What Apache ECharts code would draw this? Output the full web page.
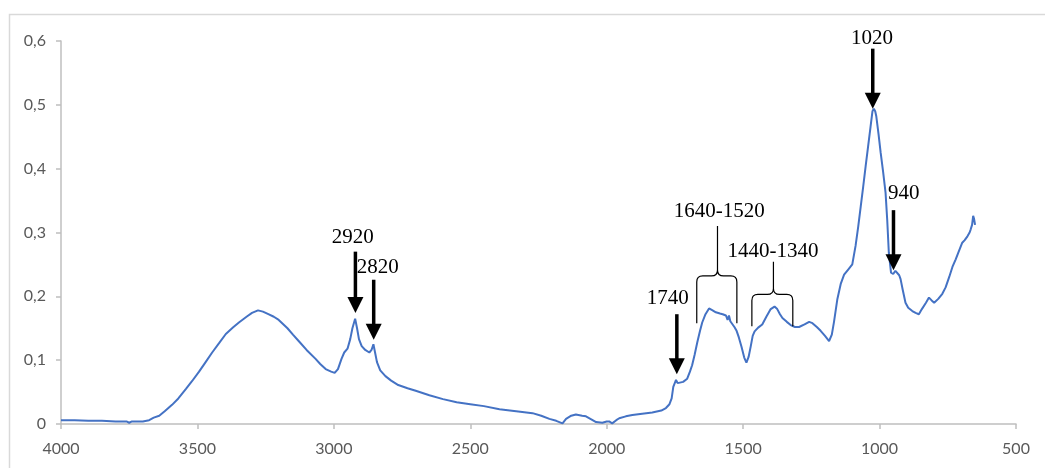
<!DOCTYPE html>
<html>
<head>
<meta charset="utf-8">
<script src="https://cdn.jsdelivr.net/npm/echarts@6/dist/echarts.min.js"></script>
<style>
  html, body { margin: 0; padding: 0; background: #fff; }
  #chart { width: 1045px; height: 468px; }
</style>
</head>
<body>
<div id="chart"></div>
<script>
// 光谱数据（波数 / 吸光度）
const wavenumbers = [
  4000, 3950, 3900, 3850, 3800, 3760, 3750, 3740, 3700, 3677, 3660, 3640, 3620, 3593, 3570, 3542, 3520, 3494, 3470, 3446,
  3420, 3396, 3370, 3348, 3320, 3300, 3278, 3260, 3240, 3220, 3202, 3170, 3150, 3129, 3100, 3067, 3050, 3030, 3010, 2997,
  2985, 2972, 2962, 2950, 2940, 2932, 2922, 2915, 2908, 2898, 2885, 2870, 2862, 2855, 2849, 2842, 2830, 2811, 2790, 2764,
  2730, 2700, 2650, 2600, 2550, 2500, 2450, 2393, 2332, 2272, 2240, 2210, 2185, 2162, 2149, 2130, 2113, 2090, 2076, 2055,
  2039, 2016, 2000, 1991, 1980, 1965, 1954, 1930, 1906, 1870, 1833, 1800, 1783, 1770, 1762, 1756, 1746, 1740, 1734, 1720,
  1705, 1695, 1687, 1678, 1668, 1658, 1650, 1638, 1625, 1612, 1600, 1585, 1575, 1563, 1557, 1552, 1547, 1540, 1532, 1524,
  1516, 1506, 1496, 1488, 1480, 1472, 1465, 1458, 1445, 1430, 1415, 1399, 1385, 1375, 1365, 1356, 1340, 1326, 1310, 1295,
  1275, 1258, 1246, 1230, 1216, 1200, 1185, 1175, 1167, 1155, 1142, 1130, 1115, 1100, 1088, 1078, 1069, 1060, 1051, 1042,
  1033, 1026, 1021, 1016, 1012, 1004, 996, 987, 978, 972, 966, 958, 950, 942, 935, 928, 923, 915, 905, 895,
  880, 868, 856, 845, 830, 819, 810, 800, 785, 770, 758, 745, 733, 721, 710, 697, 688, 678, 670, 666,
  661, 657, 654, 650
]
const absorbance = [
  0.006, 0.006, 0.005, 0.005, 0.004, 0.004, 0.002, 0.004, 0.004, 0.006, 0.010, 0.013, 0.020, 0.030, 0.040, 0.055, 0.067, 0.082, 0.097, 0.112,
  0.127, 0.141, 0.151, 0.159, 0.168, 0.174, 0.178, 0.176, 0.172, 0.168, 0.163, 0.150, 0.140, 0.130, 0.116, 0.102, 0.094, 0.086, 0.082, 0.080,
  0.086, 0.102, 0.112, 0.118, 0.133, 0.150, 0.165, 0.150, 0.133, 0.122, 0.116, 0.112, 0.116, 0.125, 0.112, 0.097, 0.084, 0.075, 0.068, 0.061,
  0.056, 0.052, 0.045, 0.039, 0.034, 0.031, 0.028, 0.023, 0.020, 0.017, 0.013, 0.008, 0.005, 0.001, 0.008, 0.013, 0.015, 0.013, 0.012, 0.007,
  0.003, 0.002, 0.004, 0.004, 0.001, 0.006, 0.009, 0.012, 0.014, 0.016, 0.018, 0.021, 0.025, 0.031, 0.040, 0.058, 0.069, 0.064, 0.062, 0.066,
  0.071, 0.082, 0.092, 0.108, 0.128, 0.146, 0.159, 0.172, 0.181, 0.178, 0.175, 0.173, 0.172, 0.170, 0.163, 0.170, 0.161, 0.162, 0.152, 0.146,
  0.136, 0.121, 0.104, 0.096, 0.105, 0.122, 0.138, 0.145, 0.151, 0.156, 0.168, 0.180, 0.184, 0.180, 0.172, 0.166, 0.160, 0.155, 0.152, 0.152,
  0.156, 0.160, 0.158, 0.152, 0.146, 0.138, 0.130, 0.140, 0.160, 0.195, 0.220, 0.234, 0.242, 0.250, 0.279, 0.310, 0.341, 0.372, 0.404, 0.435,
  0.466, 0.490, 0.494, 0.490, 0.482, 0.455, 0.425, 0.395, 0.362, 0.320, 0.268, 0.237, 0.235, 0.240, 0.240, 0.233, 0.227, 0.210, 0.190, 0.182,
  0.177, 0.174, 0.172, 0.180, 0.190, 0.198, 0.194, 0.190, 0.196, 0.204, 0.214, 0.230, 0.246, 0.258, 0.270, 0.284, 0.288, 0.294, 0.300, 0.305,
  0.312, 0.326, 0.322, 0.312
]

// 箭头标注（数据坐标）
const arrowLabels = ['2920', '2820', '1740', '1020', '940']
const arrowX = [2921, 2854, 1743, 1025, 949]
const arrowTop = [0.270, 0.226, 0.172, 0.588, 0.335]
const arrowTip = [0.174, 0.132, 0.078, 0.494, 0.241]
const arrowLabelX = [2931, 2839, 1776, 1028, 911]
const arrowLabelY = [0.292, 0.245, 0.196, 0.604, 0.361]

// 花括号标注（数据坐标）
const braceLabels = ['1640-1520', '1440-1340']
const braceLeft = [1670, 1468]
const braceRight = [1523, 1318]
const braceCenter = [1594, 1389]
const braceBar = [0.232, 0.203]
const braceBottom = [0.158, 0.153]
const braceSpike = [0.310, 0.254]
const braceLabelX = [1588, 1391]
const braceLabelY = [0.333, 0.271]

const xTicks = { min: 500, max: 4000, interval: 500 }
const yTicks = { min: 0, max: 0.6, interval: 0.1 }

const tickFont = { fontFamily: 'Lato', fontSize: 16, color: '#595959' }
const noteFont = 'Liberation Serif'

//箭头标注绘制
function arrowItem(params, api) {
  const i = params.dataIndex
  const top = api.coord([arrowX[i], arrowTop[i]])
  const tip = api.coord([arrowX[i], arrowTip[i]])
  const lab = api.coord([arrowLabelX[i], arrowLabelY[i]])
  const headH = 16, headW = 8
  return {
    type: 'group',
    children: [
      {
        type: 'line',
        shape: { x1: top[0], y1: top[1], x2: tip[0], y2: tip[1] - headH + 1 },
        style: { stroke: '#000', lineWidth: 3.5 }
      },
      {
        type: 'polygon',
        shape: { points: [[tip[0] - headW, tip[1] - headH], [tip[0] + headW, tip[1] - headH], [tip[0], tip[1]]] },
        style: { fill: '#000' }
      },
      {
        type: 'text',
        x: lab[0], y: lab[1],
        style: {
          text: arrowLabels[i], fill: '#000', font: '21px "' + noteFont + '"',
          align: 'center', verticalAlign: 'middle'
        }
      }
    ]
  }
}

//花括号标注绘制
function braceItem(params, api) {
  const i = params.dataIndex
  const l = api.coord([braceLeft[i], braceBottom[i]])
  const r = api.coord([braceRight[i], braceBottom[i]])
  const bar = api.coord([braceCenter[i], braceBar[i]])
  const spike = api.coord([braceCenter[i], braceSpike[i]])
  const lab = api.coord([braceLabelX[i], braceLabelY[i]])
  const k = 6
  const cx = bar[0], by = bar[1]
  const path = [
    'M', l[0], l[1], 'L', l[0], by + k, 'Q', l[0], by, l[0] + k, by,
    'L', cx - k, by, 'Q', cx, by, cx, by - k, 'L', cx, spike[1],
    'M', r[0], r[1], 'L', r[0], by + k, 'Q', r[0], by, r[0] - k, by,
    'L', cx + k, by, 'Q', cx, by, cx, by - k
  ].join(' ')
  return {
    type: 'group',
    children: [
      {
        type: 'path',
        shape: { pathData: path },
        style: { stroke: '#000', lineWidth: 1.2, fill: null }
      },
      {
        type: 'text',
        x: lab[0], y: lab[1],
        style: {
          text: braceLabels[i], fill: '#000', font: '21px "' + noteFont + '"',
          align: 'center', verticalAlign: 'middle'
        }
      }
    ]
  }
}

const myChart = echarts.init(document.getElementById('chart'), null, { renderer: 'canvas' })
const options = {
  backgroundColor: '#fff',
  animation: false,
  graphic: [{
    type: 'rect',
    left: 7, top: 12,
    shape: { width: 1200, height: 700 },
    style: { fill: null, stroke: '#d9d9d9', lineWidth: 1.5 },
    silent: true
  }],
  grid: { left: 61, right: 29, top: 41, bottom: 44, outerBoundsMode: 'none' },
  xAxis: {
    type: 'value',
    inverse: true,
    min: xTicks.min, max: xTicks.max, interval: xTicks.interval,
    axisLine: { show: true, lineStyle: { color: '#bfbfbf', width: 1.5 } },
    axisTick: { show: true, length: 5, lineStyle: { color: '#bfbfbf', width: 1.5 } },
    axisLabel: Object.assign({ margin: 17, formatter: v => String(v) }, tickFont),
    splitLine: { show: false }
  },
  yAxis: {
    type: 'value',
    min: yTicks.min, max: yTicks.max, interval: yTicks.interval,
    axisLine: { show: true, lineStyle: { color: '#bfbfbf', width: 1.5 } },
    axisTick: { show: true, length: 5, lineStyle: { color: '#bfbfbf', width: 1.5 } },
    axisLabel: Object.assign({
      margin: 15,
      formatter: v => (v === 0 ? '0' : v.toFixed(1).replace('.', ','))
    }, tickFont),
    splitLine: { show: false }
  },
  series: [
    {
      type: 'line',
      data: wavenumbers.map((w, i) => [w, absorbance[i]]),
      showSymbol: false,
      smooth: false,
      lineStyle: { color: '#4472c4', width: 2 },
      itemStyle: { color: '#4472c4' },
      z: 2
    },
    {
      type: 'custom',
      data: arrowLabels.map((_, i) => [arrowX[i], arrowTip[i]]),
      renderItem: arrowItem,
      clip: false,
      z: 3
    },
    {
      type: 'custom',
      data: braceLabels.map((_, i) => [braceCenter[i], braceBar[i]]),
      renderItem: braceItem,
      clip: false,
      z: 3
    }
  ]
}
myChart.setOption(options)
</script>
</body>
</html>
